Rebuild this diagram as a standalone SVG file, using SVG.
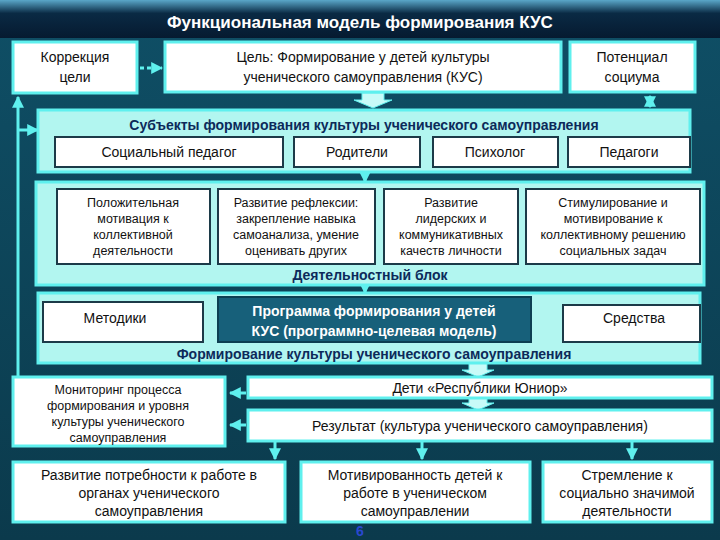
<svg xmlns="http://www.w3.org/2000/svg" width="720" height="540" viewBox="0 0 720 540">
<defs>
<linearGradient id="bg" x1="0" y1="0" x2="0" y2="1"><stop offset="0" stop-color="#0f4f66"/><stop offset="1" stop-color="#0b3a4c"/></linearGradient>
<linearGradient id="tb" x1="0" y1="0" x2="0" y2="1"><stop offset="0" stop-color="#5aa6c8"/><stop offset="0.35" stop-color="#0a2a44"/><stop offset="1" stop-color="#061a30"/></linearGradient>
<marker id="ah" viewBox="0 0 10 10" refX="9" refY="5" markerWidth="4" markerHeight="4" orient="auto-start-reverse"><path d="M0,0L10,5L0,10z" fill="#5ff0ee"/></marker>
<marker id="ad" viewBox="0 0 10 10" refX="9" refY="5" markerWidth="4" markerHeight="4" orient="auto"><path d="M0,0L10,5L0,10z" fill="#1f6a60"/></marker>
</defs>
<style>
text{font-family:"Liberation Sans",Arial,sans-serif;text-anchor:middle}
.w{fill:#fff;stroke:#5ff0ee;stroke-width:3}
.b{fill:#fff;stroke:#1c3a48;stroke-width:2}
.p{fill:#b2f6f0;stroke:#5ff0ee;stroke-width:3}
.t{font-size:14px;fill:#111}
.s{font-size:12.5px;fill:#111}
.h{font-size:14px;font-weight:bold;fill:#0c2a5a}
.c{stroke:#5ff0ee;stroke-width:3;fill:none}
.blk{fill:#c8fbf8;stroke:#5ff0ee;stroke-width:1}
</style>
<rect width="720" height="540" fill="url(#bg)"/>
<rect width="720" height="38" fill="url(#tb)"/>
<text x="360" y="28" font-size="17" font-weight="bold" fill="#fff">Функциональная модель формирования КУС</text>

<g id="connectors">
<path class="c" d="M18,378V97" marker-end="url(#ah)"/>
<path class="c" d="M18,130H38" marker-end="url(#ah)"/>
<path d="M140,68H162" stroke="#5ff0ee" stroke-width="3" stroke-dasharray="4,3" marker-end="url(#ah)"/>
<path class="blk" d="M362,93h22v7h8l-19,8l-19,-8h8z"/>
<path class="c" d="M650,96V107" marker-start="url(#ah)" marker-end="url(#ah)"/>
<path class="c" stroke-width="2" d="M365,172V182" marker-end="url(#ah)"/>
<path class="c" stroke-width="2" d="M365,285V293" marker-end="url(#ah)"/>
<path stroke="#1f6a60" stroke-width="2" d="M203,320H216" marker-end="url(#ad)"/>
<path stroke="#1f6a60" stroke-width="2" d="M563,320H533" marker-end="url(#ad)"/>
<path class="blk" d="M469,363h18v7h7l-16,7l-16,-7h7z"/>
<path class="blk" d="M469,398h18v5h7l-16,7l-16,-7h7z"/>
<path class="c" d="M246,393H230" marker-end="url(#ah)"/>
<path class="c" d="M246,425H230" marker-end="url(#ah)"/>
<path class="c" d="M275,441V459" marker-end="url(#ah)"/>
<path class="c" d="M422,441V459" marker-end="url(#ah)"/>
<path class="c" d="M632,441V459" marker-end="url(#ah)"/>
</g>

<g id="korr"><rect class="w" x="13" y="42" width="124" height="51"/><text class="t" x="75" y="62">Коррекция</text><text class="t" x="75" y="82">цели</text></g>
<g id="goal"><rect class="w" x="165" y="42" width="396" height="50"/><text class="t" x="363" y="62">Цель: Формирование у детей культуры</text><text class="t" x="363" y="82">ученического самоуправления (КУС)</text></g>
<g id="pot"><rect class="w" x="570" y="42" width="125" height="50"/><text class="t" x="632" y="62">Потенциал</text><text class="t" x="632" y="82">социума</text></g>

<g id="subjects"><rect class="p" x="38" y="110" width="652" height="62"/><text class="h" x="364" y="130">Субъекты формирования культуры ученического самоуправления</text>
<rect class="b" x="55" y="137" width="228" height="30"/><text class="t" x="169" y="157">Социальный педагог</text>
<rect class="b" x="294" y="137" width="126" height="30"/><text class="t" x="357" y="157">Родители</text>
<rect class="b" x="433" y="137" width="125" height="30"/><text class="t" x="495" y="157">Психолог</text>
<rect class="b" x="568" y="137" width="122" height="30"/><text class="t" x="629" y="157">Педагоги</text></g>

<g id="activity"><rect class="p" x="36" y="182" width="668" height="103"/>
<rect class="b" x="57" y="189" width="153" height="75"/><text class="s" x="133" y="207">Положительная</text><text class="s" x="133" y="223">мотивация к</text><text class="s" x="133" y="239">коллективной</text><text class="s" x="133" y="255">деятельности</text>
<rect class="b" x="218" y="189" width="157" height="75"/><text class="s" x="296" y="207">Развитие рефлексии:</text><text class="s" x="296" y="223">закрепление навыка</text><text class="s" x="296" y="239">самоанализа, умение</text><text class="s" x="296" y="255">оценивать других</text>
<rect class="b" x="384" y="189" width="134" height="75"/><text class="s" x="451" y="207">Развитие</text><text class="s" x="451" y="223">лидерских и</text><text class="s" x="451" y="239">коммуникативных</text><text class="s" x="451" y="255">качеств личности</text>
<rect class="b" x="526" y="189" width="174" height="75"/><text class="s" x="613" y="207">Стимулирование и</text><text class="s" x="613" y="223">мотивирование к</text><text class="s" x="613" y="239">коллективному решению</text><text class="s" x="613" y="255">социальных задач</text>
<text class="h" x="370" y="280">Деятельностный блок</text></g>

<g id="formation"><rect class="p" x="38" y="293" width="662" height="70"/>
<rect class="b" x="43" y="302" width="160" height="40"/><text class="t" x="115" y="323">Методики</text>
<rect x="218" y="297" width="313" height="45" fill="#17607a" stroke="#0d3f52" stroke-width="2"/><text x="374" y="316" font-size="14" font-weight="bold" fill="#fff">Программа формирования  у детей</text><text x="374" y="336" font-size="14" font-weight="bold" fill="#fff">КУС (программно-целевая модель)</text>
<rect class="b" x="563" y="305" width="137" height="37"/><text class="t" x="634" y="323">Средства</text>
<text class="h" x="374" y="359">Формирование культуры ученического самоуправления</text></g>

<g id="monitor"><rect class="w" x="13" y="377" width="212" height="69"/><text class="s" x="118" y="394">Мониторинг процесса</text><text class="s" x="118" y="410">формирования и  уровня</text><text class="s" x="118" y="426">культуры ученического</text><text class="s" x="118" y="442">самоуправления</text></g>
<g id="children"><rect class="w" x="248" y="377" width="464" height="21"/><text class="t" x="480" y="393">Дети «Республики Юниор»</text></g>
<g id="result"><rect class="w" x="248" y="410" width="464" height="31"/><text class="t" x="480" y="431">Результат (культура ученического самоуправления)</text></g>
<g id="r1"><rect class="w" x="13" y="462" width="272" height="60"/><text class="t" x="149" y="480">Развитие потребности к работе в</text><text class="t" x="149" y="498">органах ученического</text><text class="t" x="149" y="516">самоуправления</text></g>
<g id="r2"><rect class="w" x="301" y="462" width="229" height="60"/><text class="t" x="415" y="480">Мотивированность  детей к</text><text class="t" x="415" y="498">работе в ученическом</text><text class="t" x="415" y="516">самоуправлении</text></g>
<g id="r3"><rect class="w" x="543" y="462" width="169" height="60"/><text class="t" x="627" y="480">Стремление к</text><text class="t" x="627" y="498">социально значимой</text><text class="t" x="627" y="516">деятельности</text></g>
<text x="360" y="536" font-size="14" font-weight="bold" fill="#2a48d0">6</text>
</svg>
